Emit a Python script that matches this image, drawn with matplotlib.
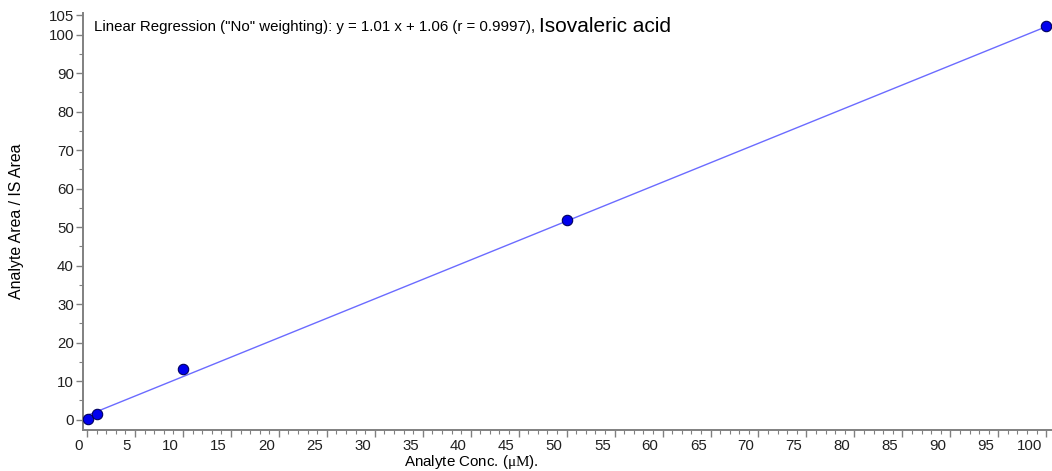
import matplotlib
matplotlib.use("Agg")
import matplotlib.pyplot as plt
import matplotlib.transforms as mtransforms
from matplotlib.ticker import MultipleLocator, FixedLocator
import numpy as np

plt.rcParams['font.family'] = ['Liberation Sans', 'DejaVu Sans']
plt.rcParams['mathtext.fontset'] = 'custom'
plt.rcParams['mathtext.rm'] = 'Liberation Serif'

conc = [0.1, 1.0, 10.0, 50.0, 100.0]
ratio = [0.25, 1.4, 13.1, 51.8, 102.3]
slope = 1.01
intercept = 1.06
r_value = 0.9997
analyte = "Isovaleric acid"
y_ticks = [0, 10, 20, 30, 40, 50, 60, 70, 80, 90, 100, 105]

fig = plt.figure(figsize=(10.52, 4.71), dpi=100)
ax = fig.add_axes([83 / 1052, 41 / 471, 969 / 1052, 417 / 471])

fit_x = np.array([min(conc), max(conc)])
ax.plot(fit_x, slope * fit_x + intercept, color='#6b6bff', lw=1.0, zorder=2)
ax.plot(conc, ratio, 'o', color='#0000ee', mec='#000060', mew=0.8, ms=7.5, zorder=3)

ax.set_xlim(-0.42, 100.6)
ax.set_ylim(-2.7, 105.6)

for s in ['top', 'right']:
    ax.spines[s].set_visible(False)
for s in ['left', 'bottom']:
    ax.spines[s].set_color('#808080')
    ax.spines[s].set_linewidth(1.4)

ax.xaxis.set_major_locator(MultipleLocator(5))
ax.xaxis.set_minor_locator(MultipleLocator(1))
ax.yaxis.set_major_locator(FixedLocator(y_ticks))
ax.yaxis.set_minor_locator(MultipleLocator(5))
ax.tick_params(which='major', length=5, width=1, color='#808080', labelsize=10.8, pad=1.5,
               labelcolor='#202020')
ax.tick_params(which='minor', length=3, width=0.8, color='#808080')

# x labels sit to the left of their ticks in the original software
shift = mtransforms.ScaledTranslation(-4 / 100, 0, fig.dpi_scale_trans)
for lab in ax.get_xticklabels():
    lab.set_horizontalalignment('right')
    lab.set_transform(lab.get_transform() + shift)

t1 = fig.text(94 / 1052, 1 - 27 / 471,
              'Linear Regression ("No" weighting): y = %.2f x + %.2f (r = %.4f), ' % (slope, intercept, r_value),
              fontsize=10.8, va='center', ha='left')
ax.annotate(analyte, xy=(1, 0.5), xycoords=t1, va='center', ha='left',
            fontsize=15)

fig.text(17 / 1052, 1 - 221 / 471, 'Analyte Area / IS Area', rotation=90,
         va='center', ha='center', fontsize=11.4)
fig.text(404 / 1052, 1 - 462 / 471, r'Analyte Conc. ($\mathrm{\mu M}$).',
         va='center', ha='left', fontsize=10.9)

fig.savefig('out.png', dpi=100)
